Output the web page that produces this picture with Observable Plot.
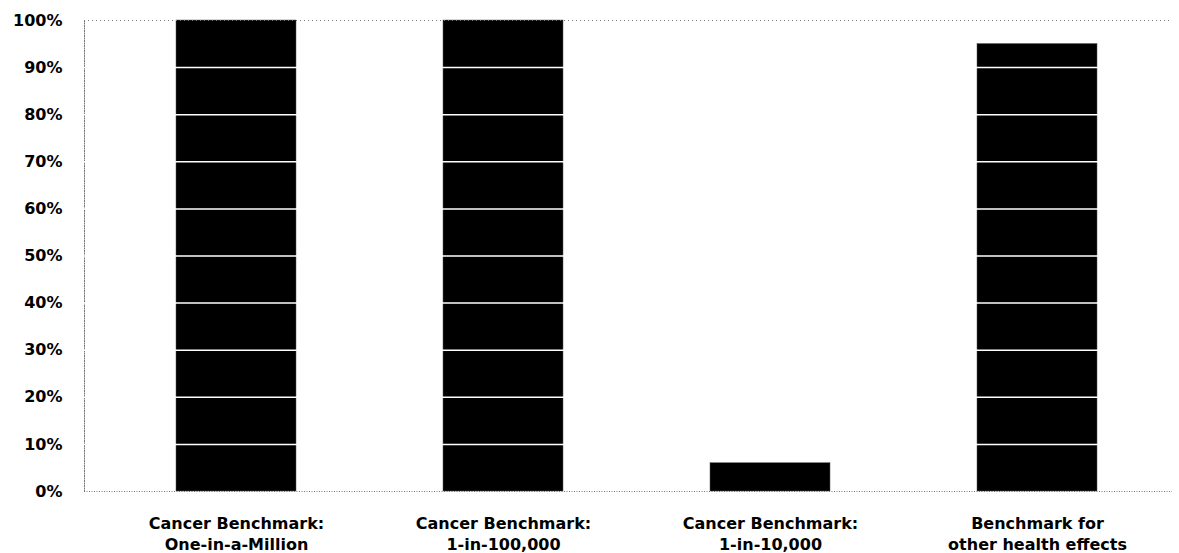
<!DOCTYPE html>
<html>
<head>
<meta charset="utf-8">
<script src="https://cdn.jsdelivr.net/npm/d3@7"></script>
<script src="https://cdn.jsdelivr.net/npm/@observablehq/plot@0.6"></script>
<style>
  html, body { margin: 0; padding: 0; background: #fff; }
  #chart svg { display: block; }
</style>
</head>
<body>
<div id="chart"></div>
<script>
const categories = [
  "Cancer Benchmark:\nOne-in-a-Million",
  "Cancer Benchmark:\n1-in-100,000",
  "Cancer Benchmark:\n1-in-10,000",
  "Benchmark for\nother health effects"
];
const values = [100, 100, 6, 95];
const yTicks = [0, 10, 20, 30, 40, 50, 60, 70, 80, 90, 100];
const gridTicks = [10, 20, 30, 40, 50, 60, 70, 80, 90];

const data = categories.map((c, i) => ({category: c, value: values[i]}));

const chart = Plot.plot({
  width: 1179,
  height: 553,
  marginLeft: 84,
  marginRight: 7,
  marginTop: 20,
  marginBottom: 62,
  style: {fontFamily: "'DejaVu Sans', sans-serif", fontWeight: "bold", fontSize: "16px", color: "#000", background: "#fff", overflow: "visible"},
  x: {domain: categories, paddingInner: 0.55, paddingOuter: 0.305, align: 0.55, label: null},
  y: {domain: [0, 100], label: null},
  marks: [
    Plot.frame({anchor: "left", stroke: "#777", strokeDasharray: "1,1.5", strokeWidth: 1}),
    Plot.barY(data, {x: "category", y: "value", fill: "#000", stroke: "#555", strokeWidth: 0.5}),
    Plot.ruleY(gridTicks, {stroke: "#fff", strokeWidth: 1.5}),
    Plot.ruleY([0], {stroke: "#777", strokeDasharray: "1,1.5", strokeWidth: 1}),
    Plot.ruleY([100], {stroke: "#777", strokeDasharray: "1,3", strokeWidth: 1}),
    Plot.axisY({ticks: yTicks, tickSize: 0, tickPadding: 22, tickFormat: d => d + "%", fontSize: 16, fontWeight: "bold", fill: "#000"}),
    Plot.axisX({tickSize: 0, tickPadding: 23, fontSize: 16, fontWeight: "bold", fill: "#000", lineHeight: 1.3})
  ]
});

document.getElementById("chart").appendChild(chart);
</script>
</body>
</html>
